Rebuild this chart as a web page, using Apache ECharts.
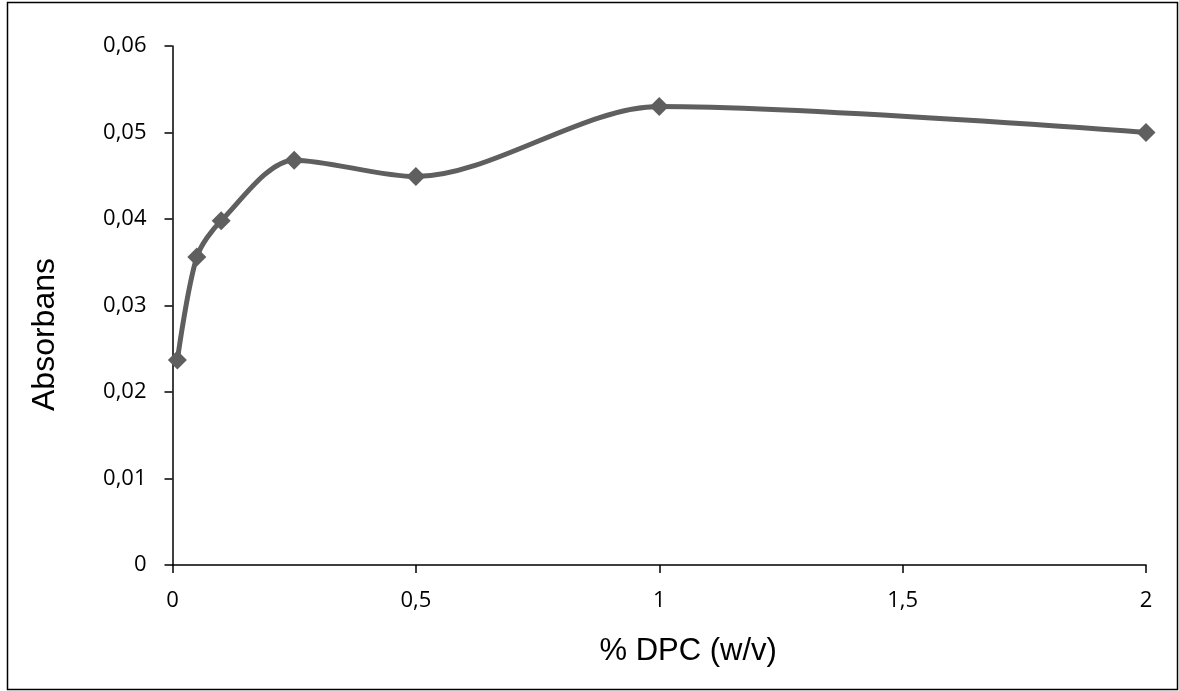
<!DOCTYPE html>
<html>
<head>
<meta charset="utf-8">
<script src="https://cdn.jsdelivr.net/npm/echarts@6/dist/echarts.min.js"></script>
<style>
  html, body { margin: 0; padding: 0; background: #fff; }
  #chart { width: 1179px; height: 691px; }
</style>
</head>
<body>
<div id="chart"></div>
<script>
// DPC concentration (% w/v) and measured absorbance
const dpcPercent = [0.01, 0.05, 0.1, 0.25, 0.5, 1, 2];
const absorbance = [0.0237, 0.0356, 0.0398, 0.0468, 0.0449, 0.0530, 0.0500];
const xTicks = [0, 0.5, 1, 1.5, 2];
const yTicks = [0, 0.01, 0.02, 0.03, 0.04, 0.05, 0.06];

// decimal comma for tick labels
const comma = v => String(+v.toFixed(4)).replace('.', ',');
const tickFont = { fontFamily: 'Open Sans', fontSize: 22, color: '#000' };

const chart = echarts.init(document.getElementById('chart'), null, { renderer: 'canvas' });
chart.setOption({
  animation: false,
  backgroundColor: '#fff',
  graphic: [{
    type: 'rect',
    shape: { x: 7.5, y: 2.5, width: 1170, height: 687 },
    style: { fill: 'none', stroke: '#000', lineWidth: 1.5 },
    silent: true
  }],
  grid: { left: 172.5, right: 33, top: 46, bottom: 126 },
  xAxis: {
    type: 'value',
    min: xTicks[0], max: xTicks[xTicks.length - 1], interval: 0.5,
    name: '% DPC (w/v)',
    nameLocation: 'middle',
    nameGap: 71,
    nameTextStyle: { fontFamily: 'Liberation Sans', fontSize: 31, color: '#000', padding: [0, 0, 0, 58] },
    axisLine: { lineStyle: { color: '#000', width: 1.5 } },
    axisTick: { show: true, length: 8, lineStyle: { color: '#000', width: 1.5 } },
    axisLabel: Object.assign({ margin: 25, formatter: comma }, tickFont),
    splitLine: { show: false }
  },
  yAxis: {
    type: 'value',
    min: yTicks[0], max: yTicks[yTicks.length - 1], interval: 0.01,
    name: 'Absorbans',
    nameLocation: 'middle',
    nameGap: 111,
    nameRotate: 90,
    nameTextStyle: { fontFamily: 'Liberation Sans', fontSize: 32, color: '#000', padding: [0, 58, 0, 0] },
    axisLine: { show: true, lineStyle: { color: '#000', width: 1.5 } },
    axisTick: { show: true, length: 8, lineStyle: { color: '#000', width: 1.5 } },
    axisLabel: Object.assign({ margin: 26, formatter: comma }, tickFont),
    splitLine: { show: false }
  },
  series: [{
    type: 'line',
    data: dpcPercent.map((x, i) => [x, absorbance[i]]),
    smooth: 0.3,
    symbol: 'diamond',
    symbolSize: 19,
    lineStyle: { color: '#5f5f5f', width: 5 },
    itemStyle: { color: '#5f5f5f' }
  }]
});
</script>
</body>
</html>
